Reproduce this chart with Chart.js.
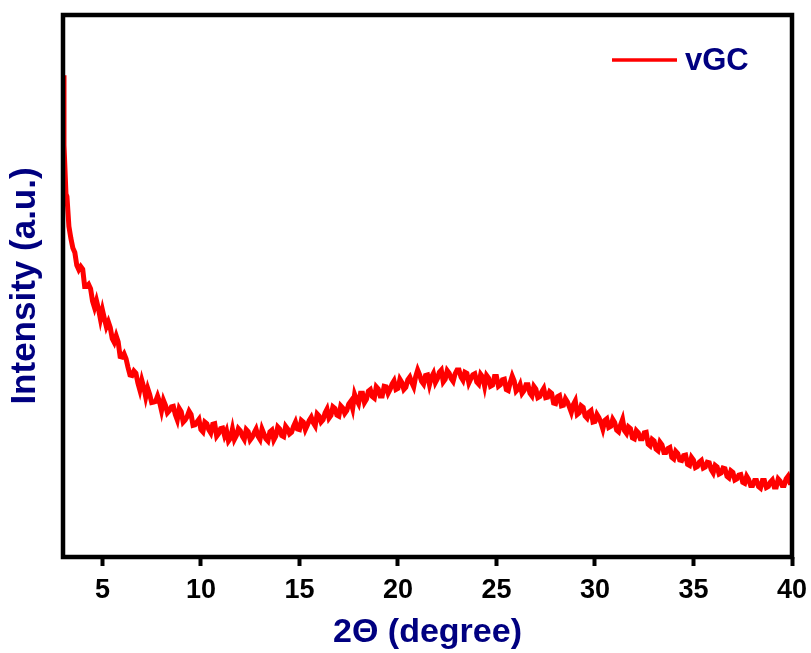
<!DOCTYPE html>
<html>
<head>
<meta charset="utf-8">
<script src="https://cdn.jsdelivr.net/npm/chart.js@4"></script>
<style>
  html, body { margin: 0; padding: 0; background: #fff; }
  #wrap { width: 811px; height: 653px; }
</style>
</head>
<body>
<div id="wrap"><canvas id="xrdChart" width="811" height="653"></canvas></div>
<script>
// XRD pattern of vGC, 2-theta in degrees vs intensity (arbitrary units)
const twoTheta = [
  3.0, 3.05, 3.1, 3.15, 3.2, 3.3, 3.4, 3.5,
  3.6, 3.7, 3.8, 3.9, 4.0, 4.1, 4.2, 4.3, 4.4, 4.5,
  4.6, 4.7, 4.8, 4.9, 5.0, 5.1, 5.2, 5.3, 5.4, 5.5,
  5.6, 5.7, 5.8, 5.9, 6.0, 6.1, 6.2, 6.3, 6.4, 6.5,
  6.6, 6.7, 6.8, 6.9, 7.0, 7.1, 7.2, 7.3, 7.4, 7.5,
  7.6, 7.7, 7.8, 7.9, 8.0, 8.1, 8.2, 8.3, 8.4, 8.5,
  8.6, 8.7, 8.8, 8.9, 9.0, 9.1, 9.2, 9.3, 9.4, 9.5,
  9.6, 9.7, 9.8, 9.9, 10.0, 10.1, 10.2, 10.3, 10.4, 10.5,
  10.6, 10.7, 10.8, 10.9, 11.0, 11.1, 11.2, 11.3, 11.4, 11.5,
  11.6, 11.7, 11.8, 11.9, 12.0, 12.1, 12.2, 12.3, 12.4, 12.5,
  12.6, 12.7, 12.8, 12.9, 13.0, 13.1, 13.2, 13.3, 13.4, 13.5,
  13.6, 13.7, 13.8, 13.9, 14.0, 14.1, 14.2, 14.3, 14.4, 14.5,
  14.6, 14.7, 14.8, 14.9, 15.0, 15.1, 15.2, 15.3, 15.4, 15.5,
  15.6, 15.7, 15.8, 15.9, 16.0, 16.1, 16.2, 16.3, 16.4, 16.5,
  16.6, 16.7, 16.8, 16.9, 17.0, 17.1, 17.2, 17.3, 17.4, 17.5,
  17.6, 17.7, 17.8, 17.9, 18.0, 18.1, 18.2, 18.3, 18.4, 18.5,
  18.6, 18.7, 18.8, 18.9, 19.0, 19.1, 19.2, 19.3, 19.4, 19.5,
  19.6, 19.7, 19.8, 19.9, 20.0, 20.1, 20.2, 20.3, 20.4, 20.5,
  20.6, 20.7, 20.8, 20.9, 21.0, 21.1, 21.2, 21.3, 21.4, 21.5,
  21.6, 21.7, 21.8, 21.9, 22.0, 22.1, 22.2, 22.3, 22.4, 22.5,
  22.6, 22.7, 22.8, 22.9, 23.0, 23.1, 23.2, 23.3, 23.4, 23.5,
  23.6, 23.7, 23.8, 23.9, 24.0, 24.1, 24.2, 24.3, 24.4, 24.5,
  24.6, 24.7, 24.8, 24.9, 25.0, 25.1, 25.2, 25.3, 25.4, 25.5,
  25.6, 25.7, 25.8, 25.9, 26.0, 26.1, 26.2, 26.3, 26.4, 26.5,
  26.6, 26.7, 26.8, 26.9, 27.0, 27.1, 27.2, 27.3, 27.4, 27.5,
  27.6, 27.7, 27.8, 27.9, 28.0, 28.1, 28.2, 28.3, 28.4, 28.5,
  28.6, 28.7, 28.8, 28.9, 29.0, 29.1, 29.2, 29.3, 29.4, 29.5,
  29.6, 29.7, 29.8, 29.9, 30.0, 30.1, 30.2, 30.3, 30.4, 30.5,
  30.6, 30.7, 30.8, 30.9, 31.0, 31.1, 31.2, 31.3, 31.4, 31.5,
  31.6, 31.7, 31.8, 31.9, 32.0, 32.1, 32.2, 32.3, 32.4, 32.5,
  32.6, 32.7, 32.8, 32.9, 33.0, 33.1, 33.2, 33.3, 33.4, 33.5,
  33.6, 33.7, 33.8, 33.9, 34.0, 34.1, 34.2, 34.3, 34.4, 34.5,
  34.6, 34.7, 34.8, 34.9, 35.0, 35.1, 35.2, 35.3, 35.4, 35.5,
  35.6, 35.7, 35.8, 35.9, 36.0, 36.1, 36.2, 36.3, 36.4, 36.5,
  36.6, 36.7, 36.8, 36.9, 37.0, 37.1, 37.2, 37.3, 37.4, 37.5,
  37.6, 37.7, 37.8, 37.9, 38.0, 38.1, 38.2, 38.3, 38.4, 38.5,
  38.6, 38.7, 38.8, 38.9, 39.0, 39.1, 39.2, 39.3, 39.4, 39.5,
  39.6, 39.7, 39.8, 39.9, 40.0
];

const intensity = [
  88.9, 76.0, 71.5, 67.0, 66.5, 61.0, 58.8, 57.0,
  56.2, 53.8, 53.0, 53.6, 53.1, 49.9, 49.9, 50.3, 49.5, 47.2,
  46.0, 47.3, 45.8, 43.9, 45.6, 44.0, 42.5, 43.4, 42.3, 40.3,
  39.6, 40.8, 39.7, 37.0, 36.9, 37.5, 36.6, 35.0, 33.6, 33.5,
  34.3, 33.9, 32.1, 30.8, 32.6, 31.3, 29.5, 31.1, 30.0, 28.5,
  28.6, 28.7, 29.7, 28.6, 27.0, 28.9, 28.0, 26.6, 27.0, 27.7,
  27.8, 26.3, 25.3, 27.4, 26.8, 24.9, 25.3, 25.9, 26.9, 26.3,
  24.3, 24.4, 24.9, 25.4, 23.5, 23.1, 24.9, 24.6, 23.5, 22.9,
  24.5, 24.6, 22.3, 22.8, 23.7, 23.8, 22.4, 23.3, 21.4, 21.9,
  23.6, 21.7, 22.4, 23.7, 23.3, 22.3, 21.7, 23.5, 23.1, 21.6,
  22.1, 22.9, 23.6, 22.3, 21.7, 23.6, 22.7, 21.8, 21.4, 23.1,
  23.4, 21.6, 22.3, 24.0, 23.6, 22.4, 22.2, 24.1, 23.6, 22.7,
  23.0, 24.1, 24.9, 23.6, 23.5, 25.2, 24.9, 23.5, 24.3, 25.2,
  25.8, 24.8, 24.2, 26.4, 26.0, 24.9, 25.3, 26.6, 27.3, 25.6,
  26.1, 27.7, 27.4, 26.2, 26.0, 27.9, 27.5, 26.5, 27.0, 28.2,
  28.7, 27.4, 30.0, 29.0, 28.3, 30.2, 30.2, 28.5, 29.1, 30.6,
  30.9, 29.6, 29.3, 31.4, 31.0, 29.7, 29.7, 31.5, 31.4, 30.2,
  30.9, 31.9, 32.5, 30.9, 31.1, 32.8, 32.2, 30.9, 31.3, 32.7,
  33.2, 32.2, 31.4, 33.3, 34.5, 33.6, 32.4, 31.9, 33.5, 33.6,
  31.8, 33.2, 33.9, 32.2, 32.9, 34.1, 34.5, 32.3, 32.8, 34.4,
  33.9, 32.9, 32.4, 33.8, 34.5, 34.5, 33.2, 32.6, 34.1, 33.9,
  32.1, 32.9, 33.6, 33.8, 32.3, 31.9, 33.7, 33.2, 31.5, 33.5,
  33.0, 31.5, 31.7, 33.3, 33.3, 31.5, 31.8, 32.7, 32.8, 30.9,
  30.7, 32.2, 33.4, 32.5, 30.6, 31.0, 31.8, 30.2, 30.7, 31.8,
  31.8, 30.2, 29.7, 31.5, 31.0, 29.4, 29.6, 30.5, 31.1, 29.4,
  29.5, 30.5, 30.2, 28.4, 28.3, 29.6, 29.8, 27.9, 28.0, 29.2,
  28.6, 27.7, 26.7, 28.1, 28.8, 26.3, 26.6, 27.9, 27.6, 26.0,
  25.6, 26.7, 27.0, 24.9, 25.0, 26.3, 25.7, 24.8, 23.6, 25.2,
  25.5, 23.9, 24.1, 25.4, 24.8, 23.4, 23.1, 24.4, 25.4, 23.3,
  22.8, 24.0, 23.7, 22.0, 21.8, 23.3, 22.9, 21.8, 21.8, 22.9,
  23.0, 20.8, 20.5, 21.7, 21.4, 19.9, 19.6, 21.2, 20.7, 19.3,
  19.3, 20.0, 20.2, 18.4, 18.1, 19.5, 19.1, 17.9, 17.8, 18.7,
  18.8, 17.1, 16.9, 18.4, 17.9, 16.5, 16.7, 17.5, 17.8, 16.4,
  16.6, 17.5, 17.4, 16.1, 15.5, 16.9, 16.6, 15.3, 15.5, 16.4,
  16.3, 14.9, 14.6, 15.9, 15.6, 14.2, 14.4, 15.1, 15.2, 13.8,
  13.6, 14.9, 14.3, 13.2, 13.2, 14.1, 14.1, 13.0, 12.7, 14.1,
  14.1, 12.8, 13.0, 13.8, 14.2, 12.9, 12.9, 14.4, 14.0, 13.2,
  13.2, 14.4, 14.9, 13.7, 13.7
];

const xTicks = [5, 10, 15, 20, 25, 30, 35, 40];

const navy = '#000080';
const lineRed = '#ff0000';
const boldFont = 'Liberation Sans, Arial, sans-serif';

// heavy black box around the plot area
const frameBox = {
  id: 'frameBox',
  afterDatasetsDraw(chart) {
    const { ctx, chartArea: a } = chart;
    ctx.save();
    ctx.strokeStyle = '#000';
    ctx.lineWidth = 4.5;
    ctx.strokeRect(a.left, a.top, a.right - a.left, a.bottom - a.top);
    ctx.restore();
  }
};

// legend entry in the upper right corner of the plot
const cornerLegend = {
  id: 'cornerLegend',
  afterDraw(chart) {
    const { ctx, chartArea: a } = chart;
    const ds = chart.data.datasets[0];
    const y = a.top + 45;
    const x0 = a.right - 180;
    ctx.save();
    ctx.strokeStyle = ds.borderColor;
    ctx.lineWidth = 3.5;
    ctx.beginPath();
    ctx.moveTo(x0, y);
    ctx.lineTo(x0 + 65, y);
    ctx.stroke();
    ctx.fillStyle = navy;
    ctx.font = 'bold 31px ' + boldFont;
    ctx.textBaseline = 'middle';
    ctx.textAlign = 'left';
    ctx.fillText(ds.label, x0 + 73, y + 1);
    ctx.restore();
  }
};

const ctx = document.getElementById('xrdChart').getContext('2d');
new Chart(ctx, {
  type: 'line',
  data: {
    datasets: [{
      label: 'vGC',
      data: twoTheta.map((x, i) => ({ x: x, y: intensity[i] })),
      borderColor: lineRed,
      backgroundColor: lineRed,
      borderWidth: 5,
      pointRadius: 0,
      tension: 0
    }]
  },
  options: {
    responsive: false,
    animation: false,
    layout: { padding: { top: 15, right: 19, left: 0, bottom: 0 } },
    plugins: {
      legend: { display: false },
      tooltip: { enabled: false }
    },
    scales: {
      x: {
        type: 'linear',
        min: 3,
        max: 40,
        afterBuildTicks: (scale) => {
          scale.ticks = xTicks.map(v => ({ value: v }));
        },
        afterFit: (scale) => {
          scale.height = 96;
          scale.paddingLeft = 0;
          scale.paddingRight = 0;
        },
        border: { display: false },
        grid: {
          drawOnChartArea: false,
          drawTicks: true,
          tickLength: 9,
          tickWidth: 4,
          tickColor: '#000'
        },
        ticks: {
          color: '#000',
          padding: 8,
          maxRotation: 0,
          font: { family: boldFont, size: 27, weight: 'bold' }
        },
        title: {
          display: true,
          text: '2\u0398 (degree)',
          color: navy,
          padding: { top: 0, bottom: 0 },
          font: { family: boldFont, size: 34, weight: 'bold' }
        }
      },
      y: {
        min: 0,
        max: 100,
        afterFit: (scale) => { scale.width = 63; },
        border: { display: false },
        grid: { display: false },
        ticks: { display: false },
        title: {
          display: true,
          text: 'Intensity (a.u.)',
          color: navy,
          padding: { top: 4, bottom: 0 },
          font: { family: boldFont, size: 35, weight: 'bold' }
        }
      }
    }
  },
  plugins: [frameBox, cornerLegend]
});
</script>
</body>
</html>
